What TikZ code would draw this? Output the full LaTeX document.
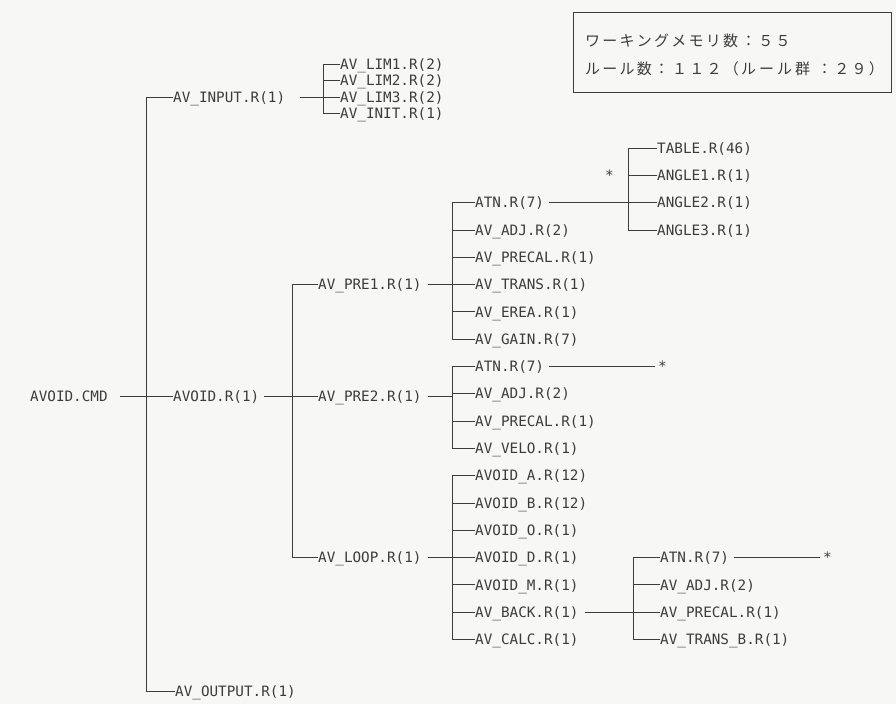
\documentclass[tikz,border=0pt]{standalone}
\usepackage{fontspec}
\setmonofont{DejaVu Sans Mono}
\newfontfamily\jpfont[Kerning=Off, LetterSpace=15]{Noto Sans CJK JP}
\usepackage{tikz}
\usetikzlibrary{calc}

\definecolor{paper}{RGB}{247,247,245}
\definecolor{ink}{RGB}{60,60,60}

\tikzstyle{rulenode} = [
  anchor=west, inner sep=0pt, text=ink,
  text height=10.4pt, text depth=0pt,
  font=\ttfamily\fontsize{14.3}{16}\selectfont
]
\tikzstyle{branch} = [line width=0.8pt, draw=ink]
\tikzstyle{infobox} = [
  rectangle, draw=ink, line width=1pt, inner sep=0pt,
  minimum width=318pt, minimum height=80pt
]
\tikzstyle{infotext} = [anchor=west, inner sep=0pt, text=ink,
  font=\jpfont\fontsize{15}{17}\selectfont]

\begin{document}
\begin{tikzpicture}[x=1pt, y=-1pt]

  \fill[paper] (0,0) rectangle (896,704);
  \useasboundingbox (0,0) rectangle (896,704);

  % Info box
  \node[infobox] (info) at (732, 52) {};
  \node[infotext] (mem) at (585, 41)
    {ワーキングメモリ数\hspace{3pt}：５５};
  \node[infotext] (rules) at (585, 69)
    {ルール数：\hspace{3pt}１１２（ル\hspace{3pt}ー\hspace{3pt}ル\hspace{3pt}群\hspace{7pt}：２９）};

  % Top levels
  \node[rulenode] (cmd) at (30, 396) {AVOID.CMD};
  \node[rulenode] (input) at (173, 97) {AV\_INPUT.R(1)};
  \node[rulenode] (avoid) at (173, 396) {AVOID.R(1)};
  \node[rulenode] (output) at (175, 691) {AV\_OUTPUT.R(1)};

  \foreach \name/\txt/\y in {lim1/AV\_LIM1.R(2)/64, lim2/AV\_LIM2.R(2)/80.5,
                             lim3/AV\_LIM3.R(2)/97, init/AV\_INIT.R(1)/113.5}
    \node[rulenode] (\name) at (340, \y) {\txt};

  \node[rulenode] (pre1) at (318, {148+27.3*5}) {AV\_PRE1.R(1)};
  \node[rulenode] (pre2) at (318, 396) {AV\_PRE2.R(1)};
  \node[rulenode] (loop) at (318, {148+27.3*15}) {AV\_LOOP.R(1)};

  % Rule rows
  \foreach \name/\txt [count=\n from 2] in {atna/ATN.R(7), adja/AV\_ADJ.R(2),
      precala/AV\_PRECAL.R(1), transa/AV\_TRANS.R(1), erea/AV\_EREA.R(1),
      gain/AV\_GAIN.R(7), atnb/ATN.R(7), adjb/AV\_ADJ.R(2),
      precalb/AV\_PRECAL.R(1), velo/AV\_VELO.R(1), avoida/AVOID\_A.R(12),
      avoidb/AVOID\_B.R(12), avoido/AVOID\_O.R(1), avoidd/AVOID\_D.R(1),
      avoidm/AVOID\_M.R(1), back/AV\_BACK.R(1), calc/AV\_CALC.R(1)}
    \node[rulenode] (\name) at (475, {148+27.3*\n}) {\txt};

  \foreach \name/\txt [count=\n from 0] in {table/TABLE.R(46), angle1/ANGLE1.R(1),
      angle2/ANGLE2.R(1), angle3/ANGLE3.R(1)}
    \node[rulenode] (\name) at (657, {148+27.3*\n}) {\txt};

  \foreach \name/\txt [count=\n from 15] in {atnc/ATN.R(7), adjc/AV\_ADJ.R(2),
      precalc/AV\_PRECAL.R(1), transb/AV\_TRANS\_B.R(1)}
    \node[rulenode] (\name) at (660, {148+27.3*\n}) {\txt};

  \node[rulenode] (star1) at (605, {148+27.3*1}) {*};
  \node[rulenode] (star2) at (658, {148+27.3*8}) {*};
  \node[rulenode] (star3) at (823, {148+27.3*15}) {*};

  % Bars
  \coordinate (cmdbar) at (146, 0);
  \coordinate (inputbar) at (323, 0);
  \coordinate (avoidbar) at (292, 0);
  \coordinate (prebar) at (452, 0);
  \coordinate (atnbar) at (628, 0);
  \coordinate (backbar) at (633, 0);

  % Connectors
  \draw[branch] ([xshift=12pt]cmd.east) -- (cmd.east -| cmdbar);
  \draw[branch] (input.west) -- (input.west -| cmdbar) -- (output.west -| cmdbar) -- (output.west);
  \draw[branch] (avoid.west -| cmdbar) -- (avoid.west);

  \draw[branch] ([xshift=15pt]input.east) -- (input.east -| inputbar);
  \draw[branch] (lim1.west) -- (lim1.west -| inputbar) -- (init.west -| inputbar) -- (init.west);
  \foreach \c in {lim2, lim3}
    \draw[branch] (\c.west -| inputbar) -- (\c.west);

  \draw[branch] ([xshift=5pt]avoid.east) -- (avoid.east -| avoidbar);
  \draw[branch] (pre1.west) -- (pre1.west -| avoidbar) -- (loop.west -| avoidbar) -- (loop.west);
  \draw[branch] (pre2.west -| avoidbar) -- (pre2.west);

  \draw[branch] ([xshift=6pt]pre1.east) -- (pre1.east -| prebar);
  \draw[branch] (atna.west) -- (atna.west -| prebar) -- (gain.west -| prebar) -- (gain.west);
  \foreach \c in {adja, precala, transa, erea}
    \draw[branch] (\c.west -| prebar) -- (\c.west);

  \draw[branch] ([xshift=6pt]pre2.east) -- (pre2.east -| prebar);
  \draw[branch] (atnb.west) -- (atnb.west -| prebar) -- (velo.west -| prebar) -- (velo.west);
  \foreach \c in {adjb, precalb}
    \draw[branch] (\c.west -| prebar) -- (\c.west);

  \draw[branch] ([xshift=6pt]loop.east) -- (loop.east -| prebar);
  \draw[branch] (avoida.west) -- (avoida.west -| prebar) -- (calc.west -| prebar) -- (calc.west);
  \foreach \c in {avoidb, avoido, avoidd, avoidm, back}
    \draw[branch] (\c.west -| prebar) -- (\c.west);

  \draw[branch] ([xshift=5pt]atna.east) -- (atna.east -| atnbar);
  \draw[branch] (table.west) -- (table.west -| atnbar) -- (angle3.west -| atnbar) -- (angle3.west);
  \foreach \c in {angle1, angle2}
    \draw[branch] (\c.west -| atnbar) -- (\c.west);

  \draw[branch] ([xshift=5pt]atnb.east) -- ([xshift=-3pt]star2.west);

  \draw[branch] ([xshift=6pt]back.east) -- (back.east -| backbar);
  \draw[branch] (atnc.west) -- (atnc.west -| backbar) -- (transb.west -| backbar) -- (transb.west);
  \foreach \c in {adjc, precalc}
    \draw[branch] (\c.west -| backbar) -- (\c.west);
  \draw[branch] ([xshift=5pt]atnc.east) -- ([xshift=-3pt]star3.west);

\end{tikzpicture}
\end{document}
